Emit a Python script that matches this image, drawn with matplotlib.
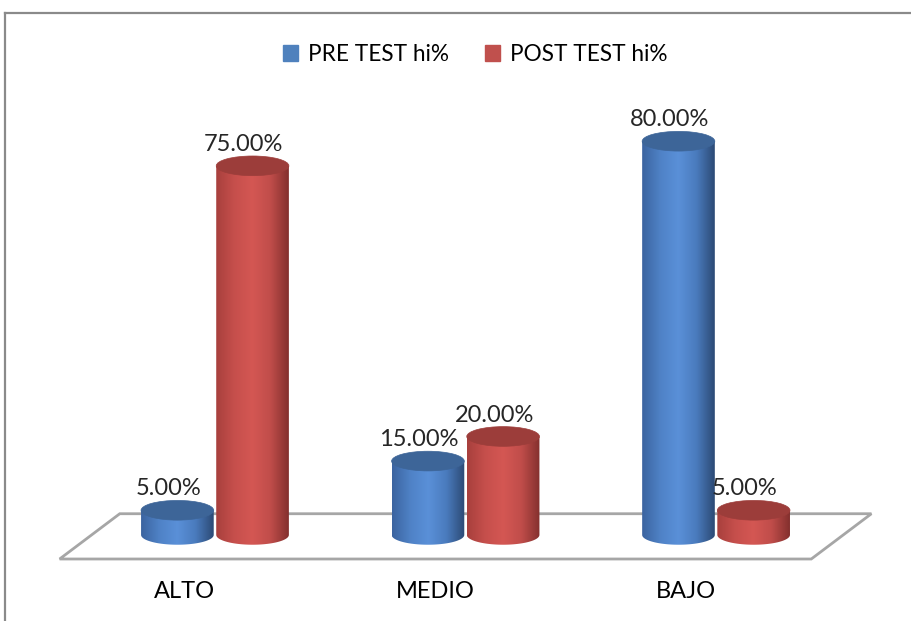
import matplotlib.pyplot as plt
import matplotlib.patches as mpatches
import numpy as np
from matplotlib.colors import LinearSegmentedColormap

categories = ['ALTO', 'MEDIO', 'BAJO']
series_names = ['PRE TEST hi%', 'POST TEST hi%']
pre_test = [5.0, 15.0, 80.0]
post_test = [75.0, 20.0, 5.0]

plt.rcParams['font.family'] = ['Lato', 'DejaVu Sans']

# body gradient (left edge, highlight, right edge) and top colour per series
styles = [
    dict(body=['#3b64a0', '#4f82c6', '#5a90d8', '#4a7bbd', '#2c4a75'], top='#3d6598', legend='#4f81bd'),
    dict(body=['#a8403d', '#c64f4c', '#d45753', '#c04d4a', '#84302e'], top='#9c3d3a', legend='#c0504d'),
]

fig = plt.figure(figsize=(9.12, 6.21), dpi=100)
ax = fig.add_axes([0, 0, 1, 1])
ax.set_xlim(-0.858, 2.782)
ax.set_ylim(-17.5, 108.7)
ax.axis('off')

# chart frame (top and left edges)
fig.add_artist(plt.Line2D([0.006, 1.0], [0.979, 0.979], color='#8a8a8a', lw=1.6, transform=fig.transFigure))
fig.add_artist(plt.Line2D([0.006, 0.006], [0.0, 0.979], color='#8a8a8a', lw=1.6, transform=fig.transFigure))

n = len(categories)
x = np.arange(n)
bar_w = 0.29
offset = 0.15
ell_h = 4.0
skew = 0.12

# floor
floor = mpatches.Polygon([(-0.5 + skew, 4.3), (n - 0.5 + skew, 4.3),
                          (n - 0.5 - skew, -4.9), (-0.5 - skew, -4.9)],
                         closed=True, fill=False, edgecolor='#a6a6a6', lw=2, zorder=1)
ax.add_patch(floor)


def cylinder(cx, val, st, z):
    x0, x1 = cx - bar_w / 2, cx + bar_w / 2
    t = np.linspace(np.pi, 2 * np.pi, 60)
    bx = cx + bar_w / 2 * np.cos(t)
    by = ell_h / 2 * np.sin(t)
    verts = list(zip(bx, by)) + [(x1, val), (x0, val)]
    body = mpatches.Polygon(verts, closed=True, facecolor='none', edgecolor='none', zorder=z)
    ax.add_patch(body)
    cmap = LinearSegmentedColormap.from_list('c', st['body'])
    grad = np.linspace(0, 1, 200)[None, :]
    im = ax.imshow(grad, cmap=cmap, aspect='auto', extent=(x0, x1, -ell_h / 2, val),
                   zorder=z, interpolation='bilinear')
    im.set_clip_path(body)
    top = mpatches.Ellipse((cx, val), bar_w, ell_h, facecolor=st['top'],
                           edgecolor=st['top'], lw=0.5, zorder=z + 0.1)
    ax.add_patch(top)


for i in range(n):
    for j, vals in enumerate([pre_test, post_test]):
        cx = x[i] + (2 * j - 1) * offset
        cylinder(cx, vals[i], styles[j], 2 + j + 2 * i)
        ax.text(cx - 0.035, vals[i] + ell_h / 2 + 0.2, f'{vals[i]:.2f}%',
                ha='center', va='bottom', fontsize=17, color='#262626', zorder=10)

for i, cat in enumerate(categories):
    ax.text(x[i] - skew, -11.6, cat, ha='center', va='center', fontsize=17, color='#000000')

handles = [mpatches.Patch(color=styles[j]['legend'], label=series_names[j]) for j in range(2)]
ax.legend(handles=handles, loc='upper center', bbox_to_anchor=(0.521, 0.962), ncol=2,
          frameon=False, fontsize=16.3, handlelength=0.65, handleheight=0.65,
          handletextpad=0.45, columnspacing=1.6)

fig.savefig('out.png', dpi=100)
